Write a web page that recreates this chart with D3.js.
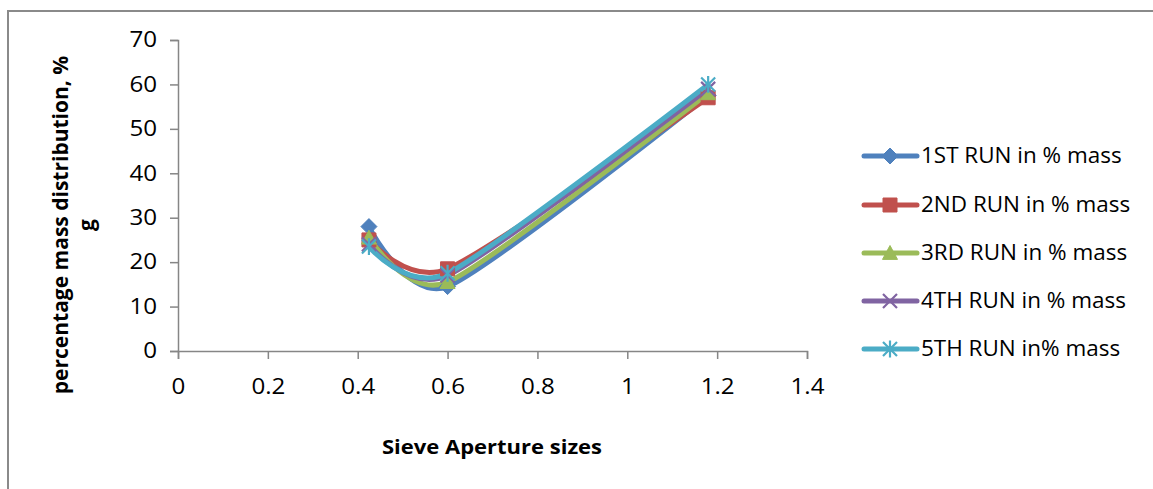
<!DOCTYPE html>
<html>
<head>
<meta charset="utf-8">
<script src="https://cdn.jsdelivr.net/npm/d3@7"></script>
<style>
  html, body { margin: 0; padding: 0; background: #fff; }
  svg { display: block; }
  text { font-family: "Open Sans", "Liberation Sans", sans-serif; fill: #000; }
</style>
</head>
<body>
<svg id="chart" width="1153" height="489"></svg>
<script>
// Sieve aperture sizes (mm) and percentage mass retained per run
const apertures = [0.425, 0.6, 1.18];
const seriesNames = ["1ST RUN in % mass", "2ND RUN in % mass", "3RD RUN in % mass", "4TH RUN in % mass", "5TH RUN in% mass"];
const run1 = [28, 14.5, 57.5];
const run2 = [25, 18.5, 57];
const run3 = [25.5, 15.5, 58];
const run4 = [24, 17, 59];
const run5 = [23.5, 17.5, 60];
const xTicks = [0, 0.2, 0.4, 0.6, 0.8, 1, 1.2, 1.4];
const yTicks = [0, 10, 20, 30, 40, 50, 60, 70];

const runs = [run1, run2, run3, run4, run5];
const colors = ["#4F81BD", "#C0504D", "#9BBB59", "#8064A2", "#4BACC6"];
const markerTypes = ["diamond", "square", "triangle", "x", "star"];
const fontFamily = "'Open Sans', 'Liberation Sans', sans-serif";

const svg = d3.select("#chart");

// outer chart frame (top and left edges visible)
svg.append("rect")
  .attr("x", 8).attr("y", 11)
  .attr("width", 1160).attr("height", 490)
  .attr("fill", "none").attr("stroke", "#8a8a8a").attr("stroke-width", 2);

const x = d3.scaleLinear().domain([0, 1.4]).range([178, 807]);
const y = d3.scaleLinear().domain([0, 70]).range([351, 40]);

// axes
const axisColor = "#868686";
const gx = svg.append("g").attr("transform", `translate(0,${y(0)})`)
  .call(d3.axisBottom(x).tickValues(xTicks).tickSize(8).tickPadding(20).tickFormat(d => String(d)));
const gy = svg.append("g").attr("transform", `translate(${x(0)},0)`)
  .call(d3.axisLeft(y).tickValues(yTicks).tickSize(8).tickPadding(13).tickFormat(d => String(d)));
[gx, gy].forEach(g => {
  g.select(".domain").attr("stroke", axisColor).attr("stroke-width", 1.5);
  g.selectAll(".tick line").attr("stroke", axisColor).attr("stroke-width", 1.5);
});
// tick labels: slightly wide-set text, anchored in place
gx.selectAll(".tick text")
  .style("font-size", "21px").style("font-family", fontFamily).attr("fill", "#000")
  .attr("transform", function () { return `translate(0,${this.getAttribute("y")}) scale(1.15,1) translate(0,${-this.getAttribute("y")})`; });
gy.selectAll(".tick text")
  .style("font-size", "21px").style("font-family", fontFamily).attr("fill", "#000")
  .attr("transform", function () { const tx = +this.getAttribute("x"); return `translate(${tx},0) scale(1.15,1) translate(${-tx},0)`; });

// axis titles
svg.append("text")
  .attr("transform", "translate(492,454) scale(1.1,1)")
  .attr("text-anchor", "middle")
  .style("font-size", "20px").style("font-weight", "bold")
  .text("Sieve Aperture sizes");

const yTitle = svg.append("text")
  .attr("transform", "translate(68,225) rotate(-90)")
  .attr("text-anchor", "middle")
  .style("font-size", "21px").style("font-weight", "bold");
yTitle.append("tspan").attr("x", 0).attr("dy", 0).text("percentage mass distribution, %");
yTitle.append("tspan").attr("x", 0).attr("dy", 26).text("g");

// marker shapes
function markerPath(type, s) {
  const h = s / 2;
  switch (type) {
    case "diamond": return `M0,${-h}L${h},0L0,${h}L${-h},0Z`;
    case "square": return `M${-h},${-h}H${h}V${h}H${-h}Z`;
    case "triangle": return `M0,${-h}L${h},${h * 0.85}L${-h},${h * 0.85}Z`;
    case "x": return `M${-h},${-h}L${h},${h}M${h},${-h}L${-h},${h}`;
    case "star": return `M${-h},${-h}L${h},${h}M${h},${-h}L${-h},${h}M0,${-h * 1.2}V${h * 1.2}`;
  }
}
function drawMarker(g, type, color, cx, cy) {
  const size = { diamond: 16, square: 14, triangle: 15, x: 14, star: 14 }[type];
  const filled = type === "diamond" || type === "square" || type === "triangle";
  g.append("path")
    .attr("transform", `translate(${cx},${cy})`)
    .attr("d", markerPath(type, size))
    .attr("fill", filled ? color : "none")
    .attr("stroke", color)
    .attr("stroke-width", filled ? 1 : 2.2);
}

const line = d3.line()
  .x(d => x(d[0])).y(d => y(d[1]))
  .curve(d3.curveCardinal.tension(0.3));

const plot = svg.append("g");
runs.forEach((vals, i) => {
  const pts = apertures.map((a, j) => [a, vals[j]]);
  plot.append("path")
    .datum(pts)
    .attr("d", line)
    .attr("fill", "none")
    .attr("stroke", colors[i])
    .attr("stroke-width", 5)
    .attr("stroke-linecap", "round");
});
runs.forEach((vals, i) => {
  apertures.forEach((a, j) => drawMarker(plot, markerTypes[i], colors[i], x(a), y(vals[j])));
});

// legend
const legend = svg.append("g");
const legendY = [156, 205, 253, 301, 349];
seriesNames.forEach((name, i) => {
  const g = legend.append("g").attr("transform", `translate(0,${legendY[i]})`);
  g.append("line").attr("x1", 864).attr("x2", 917).attr("y1", 0).attr("y2", 0)
    .attr("stroke", colors[i]).attr("stroke-width", 5).attr("stroke-linecap", "round");
  drawMarker(g, markerTypes[i], colors[i], 890, 0);
  g.append("text").attr("transform", "translate(921,0) scale(1.07,1)").attr("dy", "0.35em")
    .style("font-size", "21px").text(name);
});
</script>
</body>
</html>
